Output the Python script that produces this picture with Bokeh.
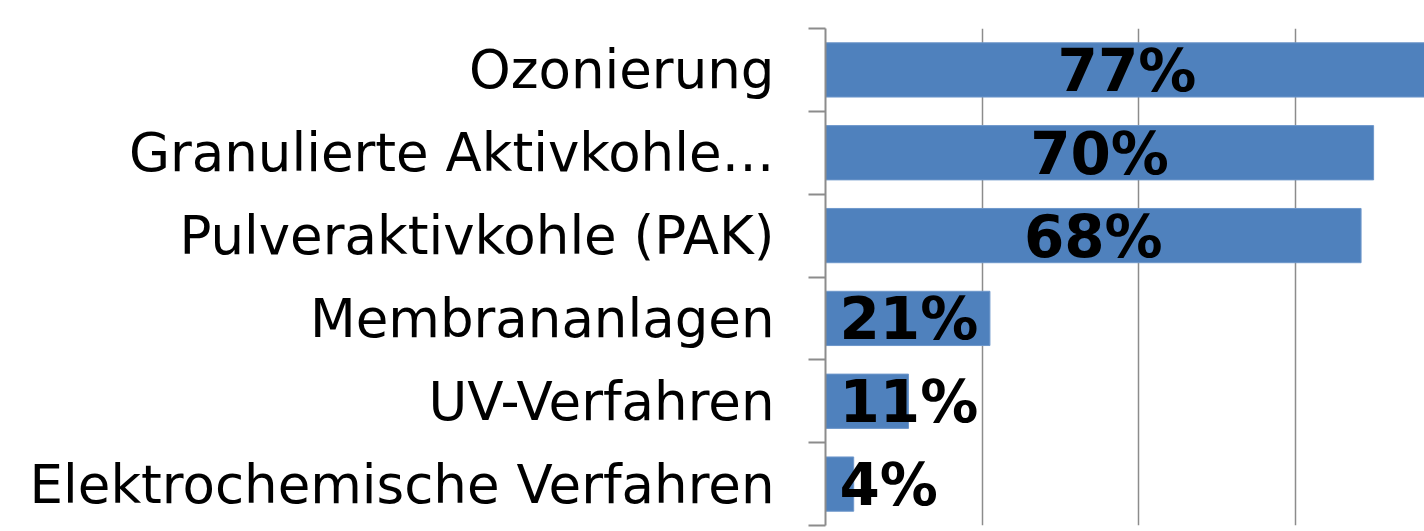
from bokeh.plotting import figure
from bokeh.models import Range1d, FixedTicker, ColumnDataSource
from bokeh.embed import file_html
from bokeh.resources import INLINE
from bokeh.core.properties import value

categories = ["Ozonierung", "Granulierte Aktivkohle…", "Pulveraktivkohle (PAK)",
              "Membrananlagen", "UV-Verfahren", "Elektrochemische Verfahren"]
values = [77, 70, 68.4, 21, 10.6, 3.6]
grid_ticks = [0, 20, 40, 60, 80]

n = len(categories)
ys = [n - i - 0.5 for i in range(n)]
labels = [f"{round(v)}%" for v in values]
cat_font = "53px"

p = figure(width=1424, height=531, output_backend="svg", toolbar_location=None,
           x_range=Range1d(0, 76.5), y_range=Range1d(0, n),
           min_border_left=825, min_border_right=0, min_border_top=28, min_border_bottom=6)
p.outline_line_color = None
p.background_fill_color = "white"
p.border_fill_color = "white"

p.hbar(y=ys, left=0, right=values, height=0.655, fill_color="#4F81BD",
       line_color="#6E97CB", line_width=1)

big = [i for i, v in enumerate(values) if v >= 30]
small = [i for i, v in enumerate(values) if v < 30]
src_big = ColumnDataSource(dict(x=[values[i] / 2 for i in big], y=[ys[i] for i in big],
                                t=[labels[i] for i in big]))
src_small = ColumnDataSource(dict(x=[0 for i in small], y=[ys[i] for i in small],
                                  t=[labels[i] for i in small]))
common = dict(text="t", text_font=value("DejaVu Sans"), text_font_style="bold",
              text_font_size="58px", text_color="black", text_baseline="middle")
p.text(x="x", y="y", source=src_big, text_align="center", y_offset=1, **common)
p.text(x="x", y="y", source=src_small, text_align="left", x_offset=14, y_offset=1, **common)

p.xaxis.visible = False
p.xgrid.ticker = FixedTicker(ticks=grid_ticks)
p.xgrid.grid_line_color = "#8C8C8C"
p.xgrid.grid_line_width = 1.5
p.ygrid.visible = False

ya = p.yaxis[0]
ya.ticker = FixedTicker(ticks=ys, minor_ticks=list(range(n + 1)))
ya.major_label_overrides = {y: c for y, c in zip(ys, categories)}
ya.major_tick_out = 0
ya.major_tick_in = 0
ya.minor_tick_out = 17
ya.minor_tick_in = 0
ya.minor_tick_line_color = "#8C8C8C"
ya.minor_tick_line_width = 2
ya.axis_line_color = "#8C8C8C"
ya.axis_line_width = 2
ya.major_label_standoff = 34
ya.major_label_text_font = "DejaVu Sans"
ya.major_label_text_font_size = cat_font
ya.major_label_text_color = "black"

open("out.html", "w").write(file_html(p, INLINE))
